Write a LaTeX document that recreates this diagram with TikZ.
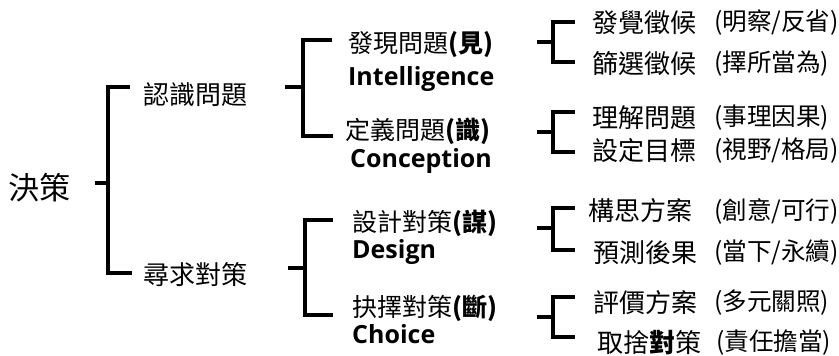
\documentclass[tikz,border=0pt]{standalone}
\usepackage{fontspec}
\setmainfont{Noto Sans CJK TC}
\newfontfamily\latb{Open Sans}
\begin{document}
\begin{tikzpicture}[x=1pt,y=-1pt,
  br/.style={line width=4pt,line join=miter,line cap=butt},
  cj/.style={anchor=west,inner sep=0pt,font=\fontsize{25}{25}\selectfont},
  lt/.style={anchor=west,inner sep=0pt,font=\fontsize{26}{26}\selectfont},
  lb/.style={anchor=base west,inner sep=0pt,font=\latb\bfseries\fontsize{25}{25}\selectfont},
  rt/.style={anchor=west,inner sep=0pt,font=\fontsize{26}{26}\selectfont},
  rn/.style={anchor=west,inner sep=0pt,font=\fontsize{24.6}{25}\selectfont}]
\useasboundingbox (0,0) rectangle (839,356);
% level 0
\node[anchor=west,inner sep=0pt,font=\fontsize{31}{31}\selectfont] (root) at (8,188) {決策};
% level 1
\node[lt] (k1) at (143,95) {認識問題};
\node[lt] (k2) at (143,275) {尋求對策};
% level 2
\node[cj] (m1) at (348,45) {發現問題\textbf{(見)}};
\node[lb] (m1e) at (348,85) {Intelligence};
\node[cj] (m2) at (345,131) {定義問題\textbf{(識)}};
\node[lb] (m2e) at (350,167) {Conception};
\node[cj] (m3) at (352,223) {設計對策\textbf{(謀)}};
\node[lb] (m3e) at (352,258) {Design};
\node[cj] (m4) at (352,308) {抉擇對策\textbf{(斷)}};
\node[lb] (m4e) at (352,343) {Choice};
% level 3
\node[rt] (r1) at (592,23) {發覺徵候};
\node[rn] (r1n) at (714,23) {(明察/反省)};
\node[rt] (r2) at (592,64) {篩選徵候};
\node[rn] (r2n) at (714,64) {(擇所當為)};
\node[rt] (r3) at (592,118) {理解問題};
\node[rn] (r3n) at (714,118) {(事理因果)};
\node[rt] (r4) at (592,151) {設定目標};
\node[rn] (r4n) at (714,151) {(視野/格局)};
\node[rt] (r5) at (588,211) {構思方案};
\node[rn] (r5n) at (714,211) {(創意/可行)};
\node[rt] (r6) at (593,253) {預測後果};
\node[rn] (r6n) at (714,253) {(當下/永續)};
\node[rt] (r7) at (593,303) {評價方案};
\node[rn] (r7n) at (714,303) {(多元關照)};
\node[rt] (r8) at (597,343) {取捨\textbf{對}策};
\node[rn] (r8n) at (716,343) {(責任擔當)};
% bracket coordinates
\coordinate (s0) at (95,183);  \coordinate (v0) at (108,183);
\coordinate (t0) at (130,87);  \coordinate (b0) at (132,273);
\coordinate (s1) at (285,87);  \coordinate (v1) at (303,87);
\coordinate (t1) at (332,40);  \coordinate (b1) at (333,136);
\coordinate (s2) at (288,268); \coordinate (v2) at (305,268);
\coordinate (t2) at (333,220); \coordinate (b2) at (333,315);
\coordinate (sa) at (537,42);  \coordinate (va) at (553,42);
\coordinate (ta) at (575,22);  \coordinate (ba) at (575,62);
\coordinate (sb) at (537,132); \coordinate (vb) at (553,132);
\coordinate (tb) at (575,112); \coordinate (bb) at (575,152);
\coordinate (sc) at (537,228); \coordinate (vc) at (553,228);
\coordinate (tc) at (575,208); \coordinate (bc) at (575,250);
\coordinate (sd) at (537,317); \coordinate (vd) at (553,317);
\coordinate (td) at (575,297); \coordinate (bd) at (575,337);
\foreach \i in {0,1,2,a,b,c,d}{
  \draw[br] (s\i) -- (v\i);
  \draw[br] (t\i) -| (v\i) |- (b\i);
}
\end{tikzpicture}
\end{document}
